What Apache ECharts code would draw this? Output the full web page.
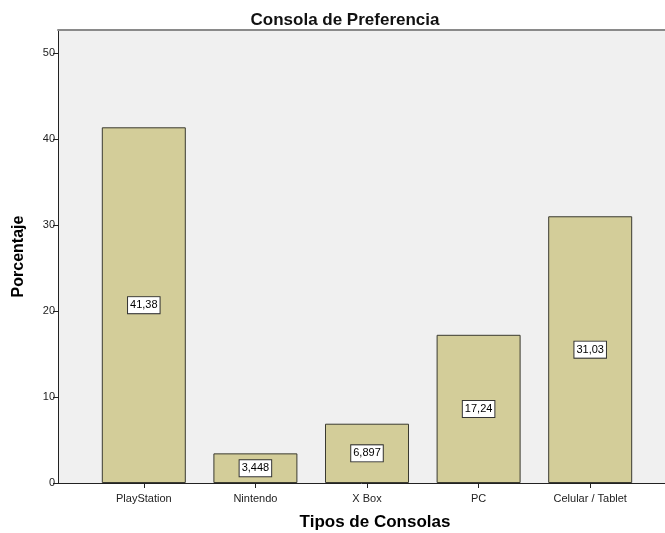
<!DOCTYPE html>
<html>
<head>
<meta charset="utf-8">
<script src="https://cdn.jsdelivr.net/npm/echarts@6/dist/echarts.min.js"></script>
<style>
  html, body { margin: 0; padding: 0; background: #fff; }
  #chart { width: 665px; height: 533px; }
</style>
</head>
<body>
<div id="chart"></div>
<script>
// Consola de Preferencia - porcentajes por tipo de consola
const categories = ['PlayStation', 'Nintendo', 'X Box', 'PC', 'Celular / Tablet']
const percentages = [41.38, 3.448, 6.897, 17.24, 31.03]
const yTicks = [0, 10, 20, 30, 40, 50]
const yMax = 52.7

const chart = echarts.init(document.getElementById('chart'))
const fontFamily = '"Liberation Sans", Arial, sans-serif'

chart.setOption({
    animation: false,
    textStyle: { fontFamily },
    title: {
        text: 'Consola de Preferencia',
        left: 340,
        textAlign: 'center',
        top: 7,
        textStyle: { fontSize: 17, fontWeight: 'bold', color: '#111', fontFamily }
    },
    grid: [
        // plot box (background, frame, value axis)
        { left: 58, right: 0, top: 30, bottom: 50, show: true, backgroundColor: '#f0f0f0', borderWidth: 0,
          containLabel: false, outerBoundsMode: 'none' },
        // inner area holding the bars
        { left: 88, right: 19, top: 30, bottom: 50, containLabel: false, outerBoundsMode: 'none' }
    ],
    xAxis: [
        {
            gridIndex: 0, type: 'value', min: 0, max: 1,
            axisLine: { show: true, lineStyle: { color: '#222', width: 1 } },
            axisTick: { show: false }, axisLabel: { show: false }, splitLine: { show: false }
        },
        {
            gridIndex: 1, type: 'category', data: categories,
            axisLine: { show: false },
            axisTick: { show: true, alignWithLabel: true, length: 5, lineStyle: { color: '#222' } },
            axisLabel: { fontSize: 11, color: '#222', margin: 10 },
            name: 'Tipos de Consolas',
            nameLocation: 'middle',
            nameGap: 31,
            nameTextStyle: { fontSize: 17, fontWeight: 'bold', color: '#000', padding: [0, 0, 0, 16] }
        },
        {
            gridIndex: 0, type: 'value', min: 0, max: 1, position: 'top',
            axisLine: { show: true, lineStyle: { color: '#8a8a8a', width: 2 } },
            axisTick: { show: false }, axisLabel: { show: false }, splitLine: { show: false }
        }
    ],
    yAxis: [
        {
            gridIndex: 0, type: 'value', min: 0, max: yMax,
            axisLine: { show: true, lineStyle: { color: '#222', width: 1 } },
            axisTick: { show: true, length: 5, customValues: yTicks, lineStyle: { color: '#222' } },
            axisLabel: { fontSize: 11, color: '#222', margin: 3, customValues: yTicks },
            splitLine: { show: false },
            name: 'Porcentaje',
            nameLocation: 'middle',
            nameGap: 31,
            nameTextStyle: { fontSize: 16, fontWeight: 'bold', color: '#000' }
        },
        {
            gridIndex: 1, type: 'value', min: 0, max: yMax, show: false
        }
    ],
    series: [{
        type: 'bar',
        xAxisIndex: 1,
        yAxisIndex: 1,
        data: percentages,
        barWidth: 84,
        itemStyle: { color: '#d3cd99', borderColor: '#3a3a30', borderWidth: 1 },
        label: {
            show: true,
            position: 'inside',
            formatter: p => String(p.value).replace('.', ','),
            fontSize: 11,
            color: '#000',
            backgroundColor: '#fff',
            borderColor: '#333',
            borderWidth: 1,
            padding: [3, 2, 2, 2]
        }
    }]
})
</script>
</body>
</html>
